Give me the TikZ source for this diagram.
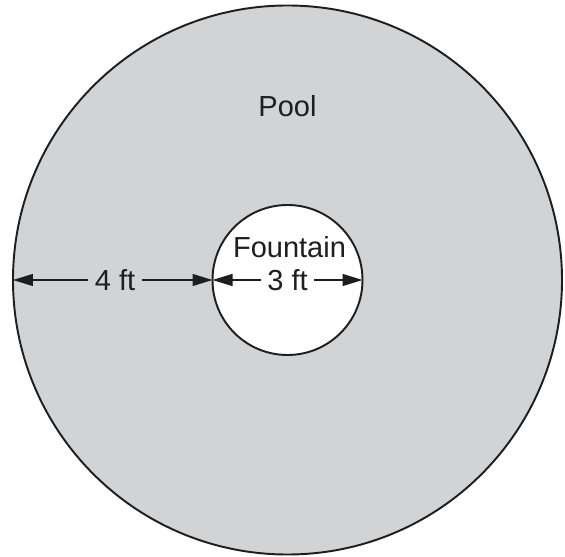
\documentclass[tikz,border=0pt]{standalone}
\usepackage{fontspec}
\setmainfont{Liberation Sans}
\usetikzlibrary{arrows.meta}
\definecolor{poolgray}{RGB}{210,211,213}
\definecolor{rimline}{RGB}{30,30,30}

\begin{document}
\begin{tikzpicture}[
  rim/.style={circle,draw=rimline,line width=1.1pt,inner sep=0pt,outer sep=0pt},
  dimarrow/.style={-{Triangle[length=4mm,width=2.4mm]},rimline,line width=0.8pt},
  lbl/.style={font=\fontsize{16.5}{19}\selectfont,text=rimline,inner sep=3.5pt}]
  \useasboundingbox (-5.75,-5.52) rectangle (5.55,5.6);
  \node[rim,fill=poolgray,minimum size=10.98cm] (pool) at (0,0) {};
  \node[rim,fill=white,minimum size=3cm] (fountain) at (0,0) {};
  \node[lbl] (poolname) at (0,3.47) {Pool};
  \node[lbl] (fountname) at (0.04,0.65) {Fountain};
  % widths across the ring and the fountain
  \node[lbl] (ringwidth) at (-3.45,0) {4 ft};
  \node[lbl] (fountwidth) at (0,0) {3 ft};
  \draw[dimarrow] (ringwidth) -- (pool.west);
  \draw[dimarrow] (ringwidth) -- (fountain.west);
  \draw[dimarrow] (fountwidth) -- (fountain.west);
  \draw[dimarrow] (fountwidth) -- (fountain.east);
\end{tikzpicture}
\end{document}
